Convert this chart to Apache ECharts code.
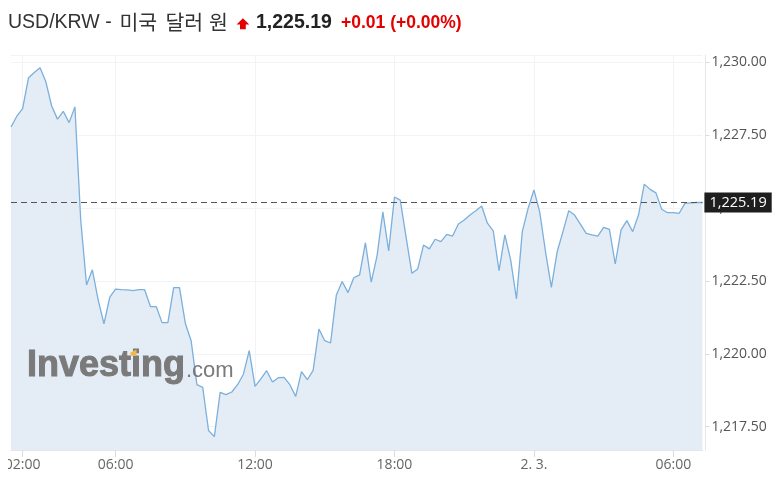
<!DOCTYPE html>
<html><head><meta charset="utf-8">
<script src="https://cdn.jsdelivr.net/npm/echarts@6/dist/echarts.min.js"></script>
<style>html,body{margin:0;padding:0;background:#fff}#c{width:780px;height:487px}</style>
</head><body><div id="c"></div>
<script>
// 15-minute USD/KRW quotes, starting 2.2 01:30
const startMinute = 90;
const stepMinutes = 15;
const values = [1227.78,1228.15,1228.41,1229.46,1229.65,1229.81,1229.33,1228.50,1228.05,1228.32,1227.93,1228.47,
1224.6,1222.36,1222.88,1221.85,1221.03,1221.94,1222.22,1222.20,1222.19,1222.17,1222.20,1222.20,
1221.62,1221.62,1221.07,1221.07,1222.27,1222.27,1221.05,1220.45,1218.94,1218.85,1217.37,1217.16,
1218.68,1218.60,1218.69,1218.94,1219.30,1220.11,1218.88,1219.14,1219.42,1219.03,1219.18,1219.19,
1218.94,1218.54,1219.39,1219.11,1219.43,1220.85,1220.45,1220.37,1222.02,1222.48,1222.10,1222.61,
1222.71,1223.81,1222.46,1223.36,1224.87,1223.53,1225.38,1225.27,1224.0,1222.76,1222.91,1223.73,
1223.60,1223.93,1223.85,1224.10,1224.04,1224.45,1224.59,1224.76,1224.91,1225.07,1224.48,1224.22,
1222.85,1224.08,1223.22,1221.88,1224.19,1224.99,1225.62,1224.87,1223.5,1222.28,1223.50,1224.19,
1224.91,1224.76,1224.45,1224.13,1224.08,1224.04,1224.34,1224.27,1223.08,1224.25,1224.57,1224.19,
1224.76,1225.82,1225.64,1225.52,1224.96,1224.84,1224.84,1224.82,1225.16,1225.18,1225.19,1225.19];
const tickCategories = ['2.2 02:00','2.2 06:00','2.2 12:00','2.2 18:00','2.3 00:00','2.3 06:00'];
const tickLabels = ['02:00','06:00','12:00','18:00','2. 3.','06:00'];
const lastPrice = 1225.19;
const yMin = 1216.7, yMax = 1230.25;

function pad(n){return (n<10?'0':'')+n;}
const categories = values.map(function(_, i){
  const t = startMinute + i*stepMinutes;
  const day = t >= 1440 ? '2.3' : '2.2';
  const m = t % 1440;
  return day + ' ' + pad(Math.floor(m/60)) + ':' + pad(m%60);
});
const tickIndex = {};
tickCategories.forEach(function(c, k){ tickIndex[c] = k; });
const isTick = function(i, v){ return tickIndex[v] !== undefined; };
function fmt(v){
  return v.toFixed(2).replace(/\B(?=(\d{3})+(?!\d))/, ',');
}

const chart = echarts.init(document.getElementById('c'), null, {renderer:'canvas'});
const latin = 'Liberation Sans, Arial, sans-serif';
const kr = 'Noto Sans CJK KR, sans-serif';
chart.setOption({
  backgroundColor:'#fff',
  animation:false,
  grid:{left:11, right:77.6, top:55, bottom:37},
  xAxis:{
    type:'category', data:categories, boundaryGap:false,
    axisLine:{show:true, lineStyle:{color:'#e3e7ec'}},
    axisTick:{show:true, interval:isTick, length:7, lineStyle:{color:'#dcdcdc'}},
    axisLabel:{interval:isTick, margin:8, color:'#666', fontSize:14, fontFamily:'Open Sans',
      formatter:function(v){ return tickLabels[tickIndex[v]]; }},
    splitLine:{show:true, interval:isTick, lineStyle:{color:'#f2f3f5'}}
  },
  yAxis:{
    type:'value', position:'right', offset:3, min:yMin, max:yMax,
    minInterval:2.5, maxInterval:2.5, scale:true,
    axisLine:{show:true, lineStyle:{color:'#e3e7ec'}},
    axisTick:{show:true, length:4, lineStyle:{color:'#dcdcdc'}},
    axisLabel:{margin:6, color:'#555', fontSize:14, fontFamily:'Open Sans', showMinLabel:false, showMaxLabel:false,
      formatter:function(v){ return fmt(v); }},
    splitLine:{show:true, lineStyle:{color:'#f2f3f5'}}
  },
  series:[{
    type:'line', data:values, symbol:'none', smooth:false,
    lineStyle:{color:'#7bafdc', width:1.3},
    areaStyle:{color:'#e4edf5', opacity:1, origin:'start'},
    markLine:{
      silent:true, symbol:'none',
      data:[{yAxis:lastPrice}],
      lineStyle:{color:'#555', type:[6,4], width:1},
      label:{show:true, position:'end', distance:2, formatter:fmt(lastPrice),
        backgroundColor:'#1e1e1e', color:'#fff', fontSize:14.5, fontFamily:'Open Sans',
        padding:[2,5,2,5], lineHeight:16}
    }
  }],
  graphic:[
    {type:'rect', z:100, shape:{x:0,y:455,width:8,height:25}, style:{fill:'#fff'}},
    {type:'text', z:100, style:{x:8, y:22.8, text:'USD/KRW -', font:'19.5px ' + latin, fill:'#333', verticalAlign:'middle'}},
    {type:'text', z:100, style:{x:119.5, y:22.3, text:'미국', font:'20.5px ' + kr, fill:'#333', verticalAlign:'middle'}},
    {type:'text', z:100, style:{x:165.5, y:22.3, text:'달러', font:'20.5px ' + kr, fill:'#333', verticalAlign:'middle'}},
    {type:'text', z:100, style:{x:209, y:22.3, text:'원', font:'20.5px ' + kr, fill:'#333', verticalAlign:'middle'}},
    {type:'polygon', z:100, shape:{points:[[242.9,18.3],[249.3,24.5],[245.8,24.5],[245.8,29.3],[240,29.3],[240,24.5],[236.6,24.5]]}, style:{fill:'#e50000'}},
    {type:'text', z:100, style:{x:256, y:22.8, text:'1,225.19', font:'bold 19.5px ' + latin, fill:'#222', verticalAlign:'middle'}},
    {type:'text', z:100, style:{x:341, y:22.8, text:'+0.01 (+0.00%)', font:'bold 17.5px ' + latin, fill:'#e50000', verticalAlign:'middle'}},
    {type:'text', z:50, style:{x:27, y:366.5, text:'Investing', font:'bold 36px ' + latin, fill:'#7a7a7a', stroke:'#7a7a7a', lineWidth:1, verticalAlign:'middle'}},
    {type:'text', z:50, style:{x:186, y:370.5, text:'.com', font:'22px ' + latin, fill:'#7a7a7a', verticalAlign:'middle'}},
    {type:'polygon', z:51, shape:{points:[[130.5,352.5],[136.5,349.5],[136.5,355.7],[130.5,355.7]]}, style:{fill:'#f0b849'}}
  ]
});
</script>
</body></html>
